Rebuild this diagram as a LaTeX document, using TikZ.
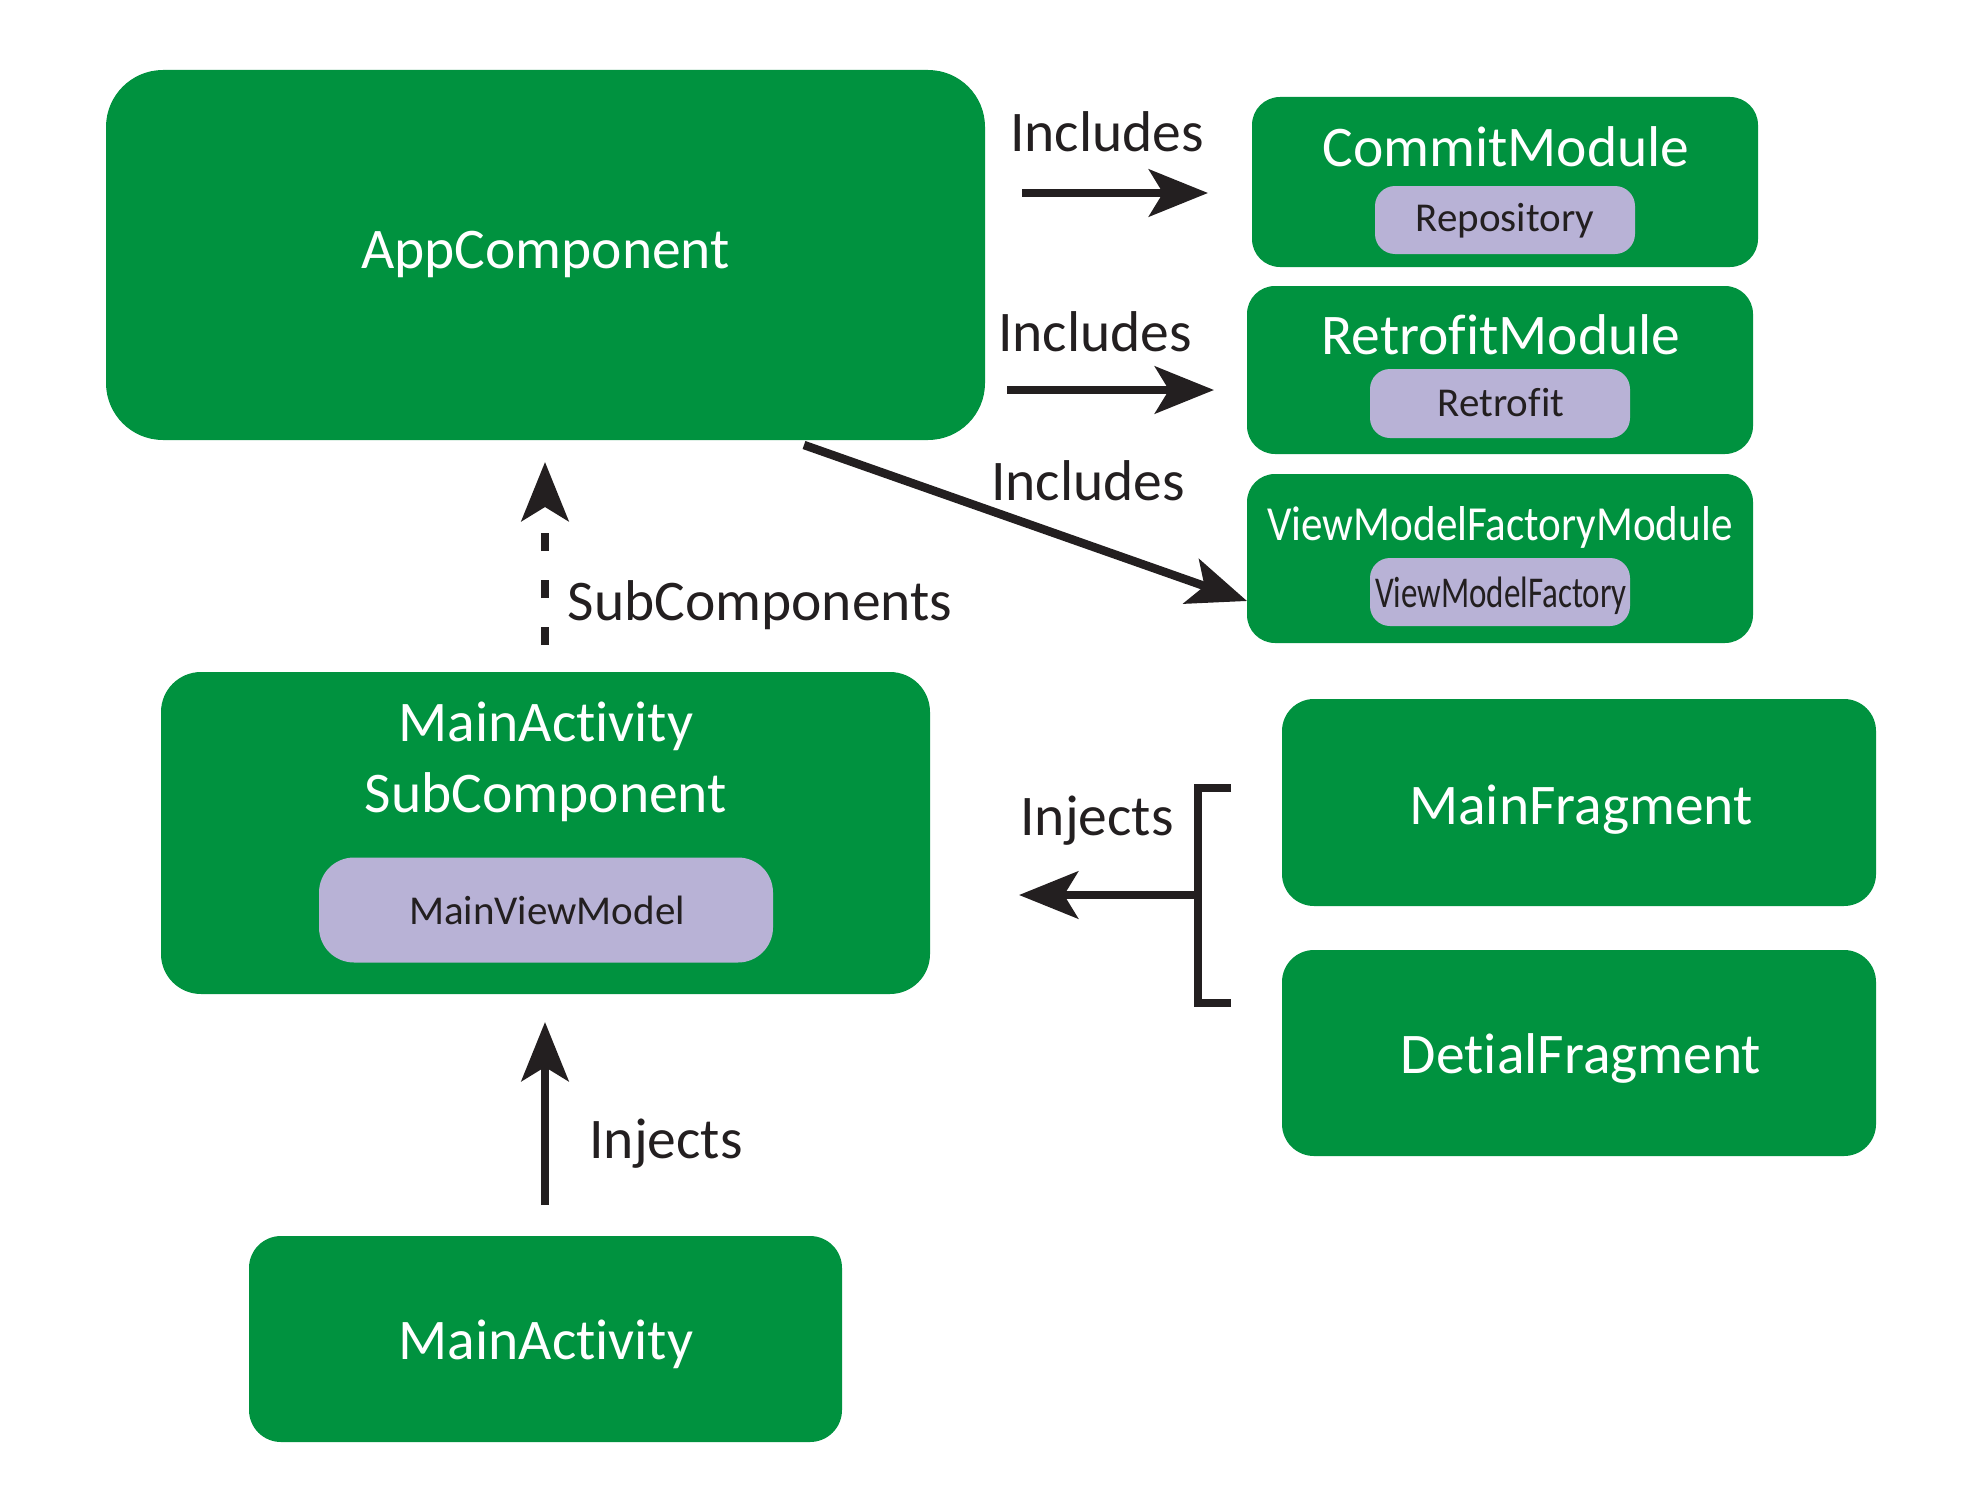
\documentclass[tikz,border=0pt]{standalone}
\usepackage{fontspec}
\setmainfont{Carlito}[Ligatures={NoCommon,NoContextual}, Contextuals=NoAlternate]
\usetikzlibrary{arrows.meta}
\definecolor{boxgreen}{RGB}{0,146,63}
\definecolor{pill}{RGB}{184,178,214}
\definecolor{ink}{RGB}{35,31,32}
\tikzset{
  bigtext/.style={font=\fontsize{57.5}{60}\selectfont, text height=37pt, text depth=0pt, inner sep=0pt},
  smalltext/.style={font=\fontsize{41}{44}\selectfont, text height=26.5pt, text depth=0pt, inner sep=0pt},
  greenbox/.style={fill=boxgreen, draw=none, inner sep=0pt, rounded corners=#1, text=white},
  pillbox/.style={fill=pill, draw=none, inner sep=0pt, rounded corners=#1, text=ink},
  label/.style={bigtext, text=ink},
  conn/.style={draw=ink, line width=8.5pt, -{Stealth[length=59pt, width=47pt, inset=14pt]}},
}
\begin{document}
\begin{tikzpicture}[x=1pt, y=-1pt]
\useasboundingbox (0,0) rectangle (1983,1493);

% application component
\node[greenbox=57, minimum width=879pt, minimum height=370pt] (app) at (545.5,255) {};
\node[bigtext, text=white] (apptxt) at (545.5,250) {AppComponent};

% modules
\node[greenbox=28, minimum width=506pt, minimum height=170pt] (commit) at (1505,182) {};
\node[bigtext, text=white] (committxt) at (1506,148) {CommitModule};
\node[pillbox=20, minimum width=260pt, minimum height=68pt] (repo) at (1505,220) {};
\node[smalltext, text=ink] (repotxt) at (1505,218) {Repository};

\node[greenbox=28, minimum width=506pt, minimum height=168pt] (retro) at (1500,370) {};
\node[bigtext, text=white] (retrotxt) at (1501,336) {RetrofitModule};
\node[pillbox=20, minimum width=260pt, minimum height=69pt] (retropill) at (1500,403.5) {};
\node[smalltext, text=ink] (retropilltxt) at (1501,403) {Retrofit};

\node[greenbox=28, minimum width=506pt, minimum height=169pt] (vmf) at (1500,558.5) {};
\node[font=\fontsize{49}{52}\selectfont, text height=31.5pt, text depth=0pt, inner sep=0pt, text=white]
  (vmftxt) at (1500,525) {\scalebox{0.88}[1]{ViewModelFactoryModule}};
\node[pillbox=20, minimum width=260pt, minimum height=68pt] (vmfpill) at (1500,592) {};
\node[font=\fontsize{44}{47}\selectfont, text height=28.5pt, text depth=0pt, inner sep=0pt, text=ink]
  (vmfpilltxt) at (1501,593) {\scalebox{0.75}[1]{ViewModelFactory}};

% activity subcomponent
\node[greenbox=40, minimum width=769pt, minimum height=322pt] (sub) at (545.5,833) {};
\node[bigtext, text=white] (subtxtA) at (546,723) {MainActivity};
\node[bigtext, text=white] (subtxtB) at (546,794) {SubComponent};
\node[pillbox=35, minimum width=454pt, minimum height=105pt] (mvm) at (546,910) {};
\node[smalltext, text=ink] (mvmtxt) at (547,911) {MainViewModel};

% fragments and activity
\node[greenbox=32, minimum width=594pt, minimum height=207pt] (mainfrag) at (1579,802.5) {};
\node[bigtext, text=white] (mainfragtxt) at (1581,806) {MainFragment};
\node[greenbox=32, minimum width=594pt, minimum height=206pt] (detfrag) at (1579,1053) {};
\node[bigtext, text=white] (detfragtxt) at (1581,1055) {DetialFragment};
\node[greenbox=32, minimum width=593pt, minimum height=206pt] (mainact) at (545.5,1339) {};
\node[bigtext, text=white] (mainacttxt) at (546,1341) {MainActivity};

% connector end points
\coordinate (incA1) at (1022,193);
\coordinate (incA2) at (1208,193);
\coordinate (incB1) at (1007,390);
\coordinate (incB2) at (1214,390);
\coordinate (incC1) at (804,445);
\coordinate (incC2) at (1247,601);
\coordinate (subS) at (545,645);
\coordinate (subE) at (545,462);
\coordinate (injS) at (545,1205);
\coordinate (injE) at (545,1022);
\coordinate (brTop) at (1231,788);
\coordinate (brBot) at (1231,1003);
\coordinate (brMid) at (1198,895);
\coordinate (brEnd) at (1019,895);

% connectors
\draw[conn] (incA1) -- (incA2);
\draw[conn] (incB1) -- (incB2);
\draw[conn] (incC1) -- (incC2);
\draw[conn, dash pattern=on 18pt off 29pt] (subS) -- (subE);
\draw[conn] (injS) -- (injE);
\draw[draw=ink, line width=8.5pt] (brTop) -- (brTop -| brMid) -- (brBot -| brMid) -- (brBot);
\draw[conn] (brMid) -- (brEnd);

% connector labels
\node[label] (lblA) at (1107,133) {Includes};
\node[label] (lblB) at (1095,333) {Includes};
\node[label] (lblC) at (1088,482) {Includes};
\node[label] (lblS) at (760,602) {SubComponents};
\node[label] (lblI) at (1097,817) {Injects};
\node[label] (lblJ) at (666,1140) {Injects};
\end{tikzpicture}
\end{document}
